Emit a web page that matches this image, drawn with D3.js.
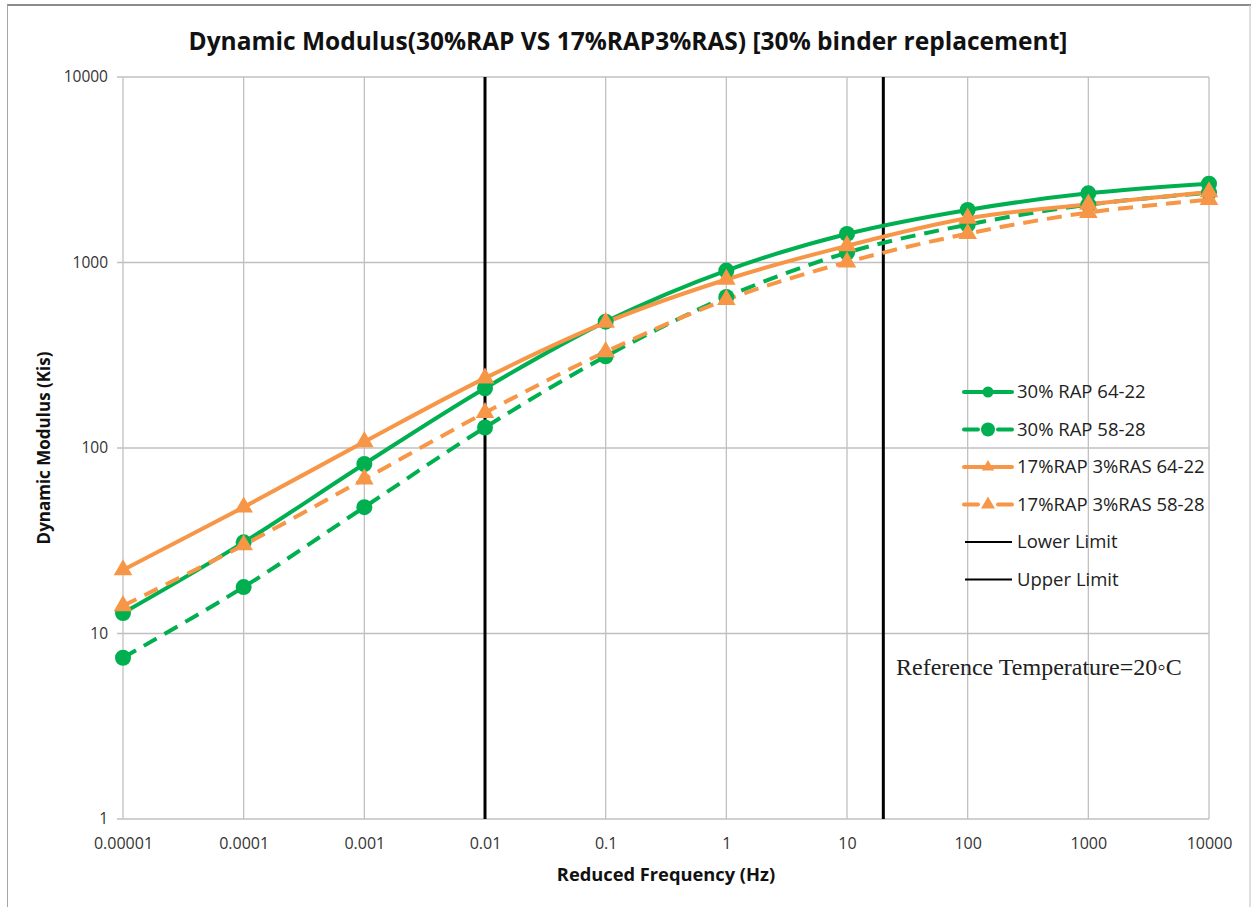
<!DOCTYPE html>
<html>
<head>
<meta charset="utf-8">
<script src="https://cdn.jsdelivr.net/npm/d3@7"></script>
<style>
  html, body { margin: 0; padding: 0; background: #fff; }
  svg { display: block; }
</style>
</head>
<body>
<svg id="chart" width="1251" height="907"></svg>
<script>
// Reduced frequency (Hz) at which each series was evaluated
const frequencies = [0.00001, 0.0001, 0.001, 0.01, 0.1, 1, 10, 100, 1000, 10000];

// Dynamic modulus (ksi) per mix
const rap30_6422 = [12.9, 31, 82, 210, 480, 905, 1425, 1920, 2360, 2660];
const rap30_5828 = [7.4, 17.8, 48, 129, 312, 652, 1130, 1600, 2050, 2380];
const rap17ras3_6422 = [22, 48, 108, 238, 475, 810, 1230, 1730, 2060, 2400];
const rap17ras3_5828 = [14.1, 30, 68, 155, 330, 630, 1005, 1430, 1860, 2180];

// Vertical limit lines (Hz)
const lowerLimit = 0.01;
const upperLimit = 20;

const xTickValues = [0.00001, 0.0001, 0.001, 0.01, 0.1, 1, 10, 100, 1000, 10000];
const xTickLabels = ["0.00001", "0.0001", "0.001", "0.01", "0.1", "1", "10", "100", "1000", "10000"];
const yTickValues = [1, 10, 100, 1000, 10000];
const yTickLabels = ["1", "10", "100", "1000", "10000"];

const seriesNames = ["30% RAP 64-22", "30% RAP 58-28", "17%RAP 3%RAS 64-22", "17%RAP 3%RAS 58-28"];

const GREEN = "#00b050";
const ORANGE = "#f79646";

const series = [
  { name: seriesNames[0], values: rap30_6422, color: GREEN, dashed: false, marker: "circle" },
  { name: seriesNames[1], values: rap30_5828, color: GREEN, dashed: true, marker: "circle" },
  { name: seriesNames[2], values: rap17ras3_6422, color: ORANGE, dashed: false, marker: "triangle" },
  { name: seriesNames[3], values: rap17ras3_5828, color: ORANGE, dashed: true, marker: "triangle" }
];

const svg = d3.select("#chart");
const plot = { left: 123, right: 1209, top: 77, bottom: 819 };

const x = d3.scaleLog().domain([0.00001, 10000]).range([plot.left, plot.right]);
const y = d3.scaleLog().domain([1, 10000]).range([plot.bottom, plot.top]);

const font = "'Open Sans', 'Liberation Sans', sans-serif";

// Outer chart frame
svg.append("line").attr("x1", 7).attr("x2", 1251).attr("y1", 5).attr("y2", 5)
  .attr("stroke", "#8c8c8c").attr("stroke-width", 2);
svg.append("line").attr("x1", 7.5).attr("x2", 7.5).attr("y1", 5).attr("y2", 907)
  .attr("stroke", "#a6a6a6").attr("stroke-width", 1);
svg.append("line").attr("x1", 1250).attr("x2", 1250).attr("y1", 5).attr("y2", 907)
  .attr("stroke", "#bfbfbf").attr("stroke-width", 1);

// Gridlines
const grid = svg.append("g").attr("stroke", "#c0c0c0").attr("stroke-width", 1.3);
xTickValues.forEach(v => {
  grid.append("line").attr("x1", x(v)).attr("x2", x(v)).attr("y1", plot.top).attr("y2", plot.bottom);
});
yTickValues.forEach(v => {
  grid.append("line").attr("x1", plot.left - 6).attr("x2", plot.right).attr("y1", y(v)).attr("y2", y(v));
});

// Axes (labels only; lines drawn as gridlines)
const yAxis = d3.axisLeft(y).tickValues(yTickValues)
  .tickFormat((d, i) => yTickLabels[i]).tickSize(0).tickPadding(15);
const gy = svg.append("g").attr("transform", `translate(${plot.left},0)`).call(yAxis);
gy.select(".domain").remove();
gy.selectAll("text").attr("font-family", font).attr("font-size", 15.5).attr("fill", "#333");

const xAxis = d3.axisBottom(x).tickValues(xTickValues)
  .tickFormat((d, i) => xTickLabels[i]).tickSize(0).tickPadding(19);
const gx = svg.append("g").attr("transform", `translate(0,${plot.bottom})`).call(xAxis);
gx.select(".domain").remove();
gx.selectAll("text").attr("font-family", font).attr("font-size", 16).attr("fill", "#333");

// Limit lines
[lowerLimit, upperLimit].forEach(v => {
  svg.append("line").attr("x1", x(v)).attr("x2", x(v)).attr("y1", plot.top).attr("y2", plot.bottom)
    .attr("stroke", "#000").attr("stroke-width", 3);
});

// Series lines and markers
const line = d3.line()
  .x((d, i) => x(frequencies[i]))
  .y(d => y(d))
  .curve(d3.curveCatmullRom.alpha(0.5));

const triangle = d3.symbol().type(d3.symbolTriangle).size(150);

series.forEach(s => {
  svg.append("path").datum(s.values)
    .attr("d", line)
    .attr("fill", "none")
    .attr("stroke", s.color)
    .attr("stroke-width", 4)
    .attr("stroke-dasharray", s.dashed ? "15,9" : null);
});

series.forEach(s => {
  const g = svg.append("g").attr("fill", s.color);
  s.values.forEach((v, i) => {
    if (s.marker === "circle") {
      g.append("circle").attr("cx", x(frequencies[i])).attr("cy", y(v)).attr("r", 8);
    } else {
      g.append("path").attr("d", triangle)
        .attr("transform", `translate(${x(frequencies[i])},${y(v)})`);
    }
  });
});

// Legend
const legendRows = [
  { label: seriesNames[0], color: GREEN, dashed: false, marker: "circle" },
  { label: seriesNames[1], color: GREEN, dashed: true, marker: "circle" },
  { label: seriesNames[2], color: ORANGE, dashed: false, marker: "triangle" },
  { label: seriesNames[3], color: ORANGE, dashed: true, marker: "triangle" },
  { label: "Lower Limit", color: "#000", dashed: false, marker: null },
  { label: "Upper Limit", color: "#000", dashed: false, marker: null }
];
const legend = svg.append("g").attr("transform", "translate(964,392)");
legendRows.forEach((r, i) => {
  const g = legend.append("g").attr("transform", `translate(0,${i * 37.5})`);
  if (r.marker) {
    if (r.dashed) {
      g.append("line").attr("x1", 0).attr("x2", 14).attr("stroke", r.color).attr("stroke-width", 4).attr("stroke-linecap", "round");
      g.append("line").attr("x1", 34).attr("x2", 48).attr("stroke", r.color).attr("stroke-width", 4).attr("stroke-linecap", "round");
    } else {
      g.append("line").attr("x1", 0).attr("x2", 48).attr("stroke", r.color).attr("stroke-width", 4).attr("stroke-linecap", "round");
    }
    if (r.marker === "circle") {
      g.append("circle").attr("cx", 24).attr("cy", 0).attr("r", r.dashed ? 7 : 5.5).attr("fill", r.color);
    } else {
      g.append("path").attr("d", d3.symbol().type(d3.symbolTriangle).size(r.dashed ? 85 : 65)())
        .attr("transform", "translate(24,0)").attr("fill", r.color);
    }
  } else {
    g.append("line").attr("x1", 1).attr("x2", 48).attr("stroke", "#000").attr("stroke-width", 2.2);
  }
  g.append("text").attr("x", 53).attr("y", 0).attr("dy", "0.35em")
    .attr("font-family", font).attr("font-size", 18.5).attr("fill", "#222").text(r.label);
});

// Annotation
svg.append("text").attr("x", 896).attr("y", 675)
  .attr("font-family", "'Liberation Serif', 'Times New Roman', serif")
  .attr("font-size", 24).attr("fill", "#222")
  .text("Reference Temperature=20\u25E6C");

// Title
svg.append("text").attr("x", 628).attr("y", 50).attr("text-anchor", "middle")
  .attr("font-family", font).attr("font-weight", "bold").attr("font-size", 24.5).attr("fill", "#111")
  .text("Dynamic Modulus(30%RAP VS 17%RAP3%RAS) [30% binder replacement]");

// Axis titles
svg.append("text").attr("x", 666).attr("y", 881).attr("text-anchor", "middle")
  .attr("font-family", font).attr("font-weight", "bold").attr("font-size", 18.3).attr("fill", "#111")
  .text("Reduced Frequency (Hz)");
svg.append("text").attr("transform", "translate(50,448) rotate(-90)").attr("text-anchor", "middle")
  .attr("font-family", font).attr("font-weight", "bold").attr("font-size", 17).attr("fill", "#111")
  .text("Dynamic Modulus (Kis)");
</script>
</body>
</html>
